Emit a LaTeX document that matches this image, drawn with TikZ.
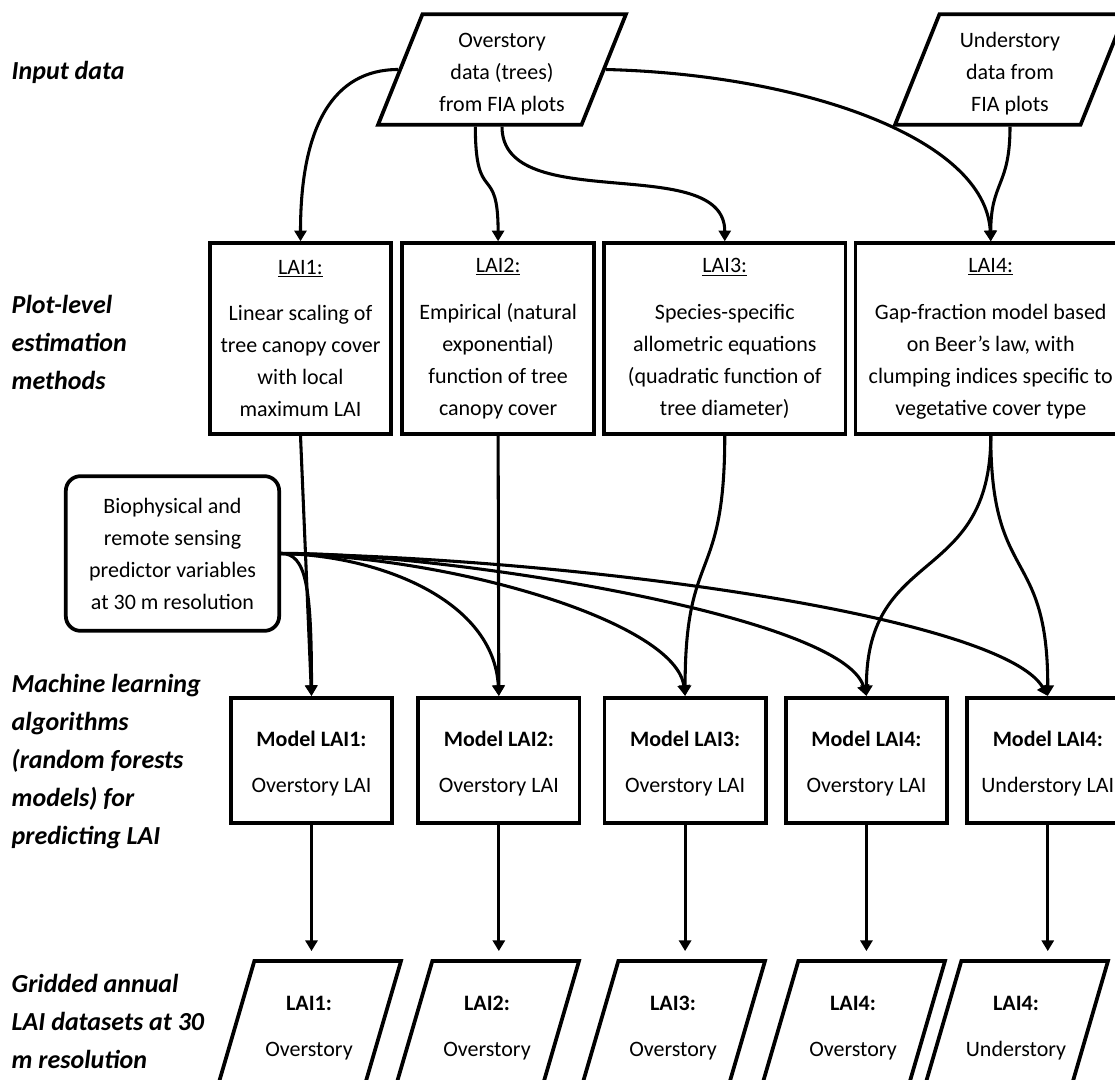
\documentclass[tikz,border=0pt]{standalone}
\usepackage{fontspec}
\setmainfont{Carlito}
\usepackage{tikz}
\usetikzlibrary{shapes,arrows,arrows.meta}
\usetikzlibrary{positioning}
\tikzstyle{arrow} = [line width=2.3pt,->,>={Triangle[length=8pt,width=9pt]}]
\tikzstyle{method} = [
    rectangle, minimum height=143pt, align=center, draw=black, line width=2.8pt,
    font=\fontsize{16.5}{24}\selectfont]
\tikzstyle{model} = [
    rectangle, minimum width=121pt, minimum height=94pt, align=center, draw=black,
    line width=2.8pt, font=\fontsize{16.5}{24}\selectfont]
\tikzstyle{indata} = [
    trapezium, trapezium left angle=68, trapezium right angle=112, trapezium stretches body,
    minimum height=83pt, inner ysep=6.75pt, align=center, draw=black, line width=2.8pt,
    font=\fontsize{16.5}{24}\selectfont]
\tikzstyle{outdata} = [
    trapezium, trapezium left angle=73.6, trapezium right angle=106.4, trapezium stretches body,
    minimum width=138pt, minimum height=96pt, inner ysep=21.45pt, align=center, draw=black,
    line width=2.8pt, font=\fontsize{16.5}{24}\selectfont]
\tikzstyle{predictor} = [
    rectangle, rounded corners=11pt, minimum width=160pt, minimum height=116pt,
    align=center, draw=black, line width=2.8pt, font=\fontsize{16.5}{24}\selectfont]
\tikzstyle{stage} = [anchor=west, align=left,
    font=\fontsize{19.5}{28.5}\selectfont\bfseries\itshape]
\newcommand{\lift}[1]{\rule{0pt}{#1}}

\begin{document}
\begin{tikzpicture}[x=0.75pt,y=-0.75pt]
\useasboundingbox (0,0) rectangle (1115,1080);
\clip (0,0) rectangle (1115,1080);

% row labels
\node (stage-input) [stage] at (7,72) {Input data};
\node (stage-plot) [stage] at (7,342) {Plot-level\\estimation\\methods};
\node (stage-ml) [stage] at (7,762) {Machine learning\\algorithms\\(random forests\\models) for\\predicting LAI};
\node (stage-grid) [stage] at (7,1021) {Gridded annual\\LAI datasets at 30\\m resolution};

% input data
\node (over-in) [indata, minimum width=186pt] at (502,69.5) {
    \lift{18.4pt}Overstory\\data (trees)\\from FIA plots};
\node (under-in) [indata, minimum width=172.5pt] at (1010,69.5) {
    \lift{18.4pt}Understory\\data from\\FIA plots};

% plot-level methods
\node (lai1) [method, minimum width=136pt] at (300.5,338.5) {
    \underline{LAI1:}\\[11pt]
    Linear scaling of\\tree canopy cover\\with local\\maximum LAI};
\node (lai2) [method, minimum width=144pt, right=5.4pt of lai1] {
    \underline{LAI2:}\\[11pt]
    Empirical (natural\\exponential)\\function of tree\\canopy cover};
\node (lai3) [method, minimum width=181pt, right=4.7pt of lai2] {
    \underline{LAI3:}\\[11pt]
    Species-specific\\allometric equations\\(quadratic function of\\tree diameter)};
\node (lai4) [method, minimum width=203pt, right=4.7pt of lai3] {
    \underline{LAI4:}\\[11pt]
    Gap-fraction model based\\on Beer's law, with\\clumping indices specific to\\vegetative cover type};

\node (pred) [predictor] at (172.5,553.5) {
    Biophysical and\\remote sensing\\predictor variables\\at 30 m resolution};

% random forests models
\node (m1) [model] at (311.5,760.5) {\lift{16.6pt}\textbf{Model LAI1:}\\[10.5pt] Overstory LAI};
\node (m2) [model, right=16.7pt of m1] {\lift{16.6pt}\textbf{Model LAI2:}\\[10.5pt] Overstory LAI};
\node (m3) [model, right=15.9pt of m2] {\lift{16.6pt}\textbf{Model LAI3:}\\[10.5pt] Overstory LAI};
\node (m4) [model, right=12.2pt of m3] {\lift{16.6pt}\textbf{Model LAI4:}\\[10.5pt] Overstory LAI};
\node (m5) [model, right=12.2pt of m4] {\lift{16.6pt}\textbf{Model LAI4:}\\[10.5pt] Understory LAI};

% gridded outputs
\node (g1) [outdata] at (309,1025) {\lift{15.1pt}\textbf{LAI1:}\\[10.5pt] Overstory};
\node (g2) [outdata] at (487,1025) {\lift{15.1pt}\textbf{LAI2:}\\[10.5pt] Overstory};
\node (g3) [outdata] at (673,1025) {\lift{15.1pt}\textbf{LAI3:}\\[10.5pt] Overstory};
\node (g4) [outdata] at (853,1025) {\lift{15.1pt}\textbf{LAI4:}\\[10.5pt] Overstory};
\node (g5) [outdata] at (1016,1025) {\lift{15.1pt}\textbf{LAI4:}\\[10.5pt] Understory};

\draw [arrow] (over-in.west) .. controls +(-65,0) and +(0,-115) .. (lai1.north);
\draw [arrow] ([xshift=-20pt]over-in.south) .. controls +(0,80) and +(0,-80) .. (lai2.north);
\draw [arrow] (over-in.south) .. controls +(0,90) and +(0,-90) .. (lai3.north);
\draw [arrow] (over-in.east) .. controls +(197,5) and +(-5,-103) .. (lai4.north);
\draw [arrow] (under-in.south) .. controls +(0,60) and +(0,-60) .. (lai4.north);

\draw [arrow] (lai1.south) -- (m1.north);
\draw [arrow] (lai2.south) -- (m2.north);
\draw [arrow] (lai3.south) .. controls +(0,150) and +(0,-150) .. (m3.north);
\draw [arrow] (lai4.south) .. controls +(0,150) and +(0,-150) .. (m4.north);
\draw [arrow] (lai4.south) .. controls +(0,150) and +(0,-150) .. (m5.north);

\draw [arrow] (pred.east) .. controls +(25,0) and +(0,-110) .. (m1.north);
\draw [arrow] (pred.east) .. controls +(100,2) and +(-5,-95) .. (m2.north);
\draw [arrow] (pred.east) .. controls +(181,4) and +(-9,-72) .. (m3.north);
\draw [arrow] (pred.east) .. controls +(151,-2) and +(-25,-82) .. (m4.north);
\draw [arrow] (pred.east) .. controls +(321,6) and +(-45,-77) .. (m5.north);

\draw [arrow, shorten >=6pt] (m1.south) -- (m1.south |- g1.north);
\draw [arrow, shorten >=6pt] (m2.south) -- (m2.south |- g2.north);
\draw [arrow, shorten >=6pt] (m3.south) -- (m3.south |- g3.north);
\draw [arrow, shorten >=6pt] (m4.south) -- (m4.south |- g4.north);
\draw [arrow, shorten >=6pt] (m5.south) -- (m5.south |- g5.north);
\end{tikzpicture}
\end{document}
